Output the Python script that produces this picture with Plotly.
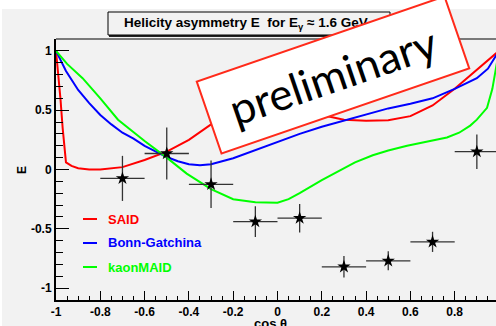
import plotly.graph_objects as go

# Measured helicity asymmetry E (K+ Lambda), E_gamma ~ 1.6 GeV
cos_theta = [-0.7, -0.5, -0.3, -0.1, 0.1, 0.3, 0.5, 0.7, 0.9]
e_meas = [-0.075, 0.135, -0.125, -0.44, -0.41, -0.82, -0.77, -0.61, 0.15]
e_stat = [0.19, 0.22, 0.20, 0.13, 0.12, 0.09, 0.08, 0.085, 0.145]
bin_half = [0.1, 0.1, 0.1, 0.1, 0.1, 0.1, 0.1, 0.1, 0.1]

# Model predictions
said_x = [-1.0, -0.99, -0.98, -0.97, -0.955, -0.93, -0.9, -0.85, -0.8, -0.7, -0.6, -0.5,
          -0.4, -0.3, -0.2, -0.1, 0.0, 0.1, 0.2, 0.3, 0.4, 0.5, 0.6, 0.7, 0.8, 0.9, 0.95, 1.0]
said_y = [1.0, 0.82, 0.6, 0.35, 0.06, 0.03, 0.01, 0.0, 0.0, 0.02, 0.08, 0.15,
          0.25, 0.38, 0.47, 0.52, 0.53, 0.50, 0.46, 0.42, 0.41, 0.415, 0.45, 0.54, 0.68, 0.84, 0.92, 1.0]

bg_x = [-1.0, -0.98, -0.955, -0.9, -0.85, -0.8, -0.75, -0.7, -0.65, -0.6, -0.55, -0.5, -0.45,
        -0.4, -0.35, -0.3, -0.2, -0.1, 0.0, 0.1, 0.2, 0.3, 0.4, 0.5, 0.6, 0.7, 0.8, 0.9, 0.95,
        0.985, 1.0]
bg_y = [1.0, 0.92, 0.83, 0.67, 0.56, 0.46, 0.38, 0.31, 0.26, 0.2, 0.15, 0.105, 0.07,
        0.045, 0.035, 0.045, 0.095, 0.165, 0.23, 0.30, 0.36, 0.41, 0.46, 0.515, 0.555, 0.60,
        0.68, 0.77, 0.85, 0.95, 1.0]

km_x = [-1.0, -0.95, -0.88, -0.8, -0.72, -0.6, -0.5, -0.41, -0.3, -0.2, -0.1, 0.0, 0.05,
        0.1, 0.2, 0.28, 0.35, 0.43, 0.5, 0.585, 0.7, 0.765, 0.82, 0.87, 0.9, 0.946, 0.97,
        0.985, 1.0]
km_y = [1.0, 0.89, 0.77, 0.6, 0.42, 0.24, 0.10, -0.035, -0.165, -0.25, -0.275, -0.28, -0.25,
        -0.20, -0.09, -0.01, 0.06, 0.12, 0.16, 0.20, 0.245, 0.27, 0.31, 0.37, 0.42, 0.52, 0.68,
        0.85, 1.0]

model_names = ["SAID", "Bonn-Gatchina", "kaonMAID"]
model_colors = ["#ff0000", "#0000ff", "#00ff00"]

x_tickvals = [-1.0, -0.8, -0.6, -0.4, -0.2, 0.0, 0.2, 0.4, 0.6, 0.8]
x_ticktext = ["-1", "-0.8", "-0.6", "-0.4", "-0.2", "0", "0.2", "0.4", "0.6", "0.8"]
y_tickvals = [-1.0, -0.5, 0.0, 0.5, 1.0]
y_ticktext = ["-1", "-0.5", "0", "0.5", "1"]

BG = "#f2f2f2"
FONT = "Liberation Sans"

fig = go.Figure()

for xs, ys, name, col in zip([said_x, bg_x, km_x], [said_y, bg_y, km_y], model_names, model_colors):
    fig.add_trace(go.Scatter(x=xs, y=ys, mode="lines", name=name,
                             line=dict(color=col, width=2), showlegend=False))

fig.add_trace(go.Scatter(
    x=cos_theta, y=e_meas, mode="markers", showlegend=False,
    marker=dict(symbol="star", size=10, color="black"),
    error_y=dict(type="data", array=e_stat, color="#333333", thickness=1.3, width=0),
    error_x=dict(type="data", array=bin_half, color="#333333", thickness=1.3, width=0),
))

# pixel -> paper helpers for the 496x326 canvas (plot area 56..496, 39..300)
L, R, T, B = 56, 496, 39, 300
def px(x):
    return (x - L) / (R - L)
def py(y):
    return (B - y) / (B - T)

shapes = []
# white strip along the top and left edges of the canvas
shapes.append(dict(type="rect", xref="paper", yref="paper", x0=px(-10), x1=px(510),
                   y0=py(9), y1=py(-10), fillcolor="white", line=dict(width=0), layer="below"))
shapes.append(dict(type="rect", xref="paper", yref="paper", x0=px(-10), x1=px(2),
                   y0=py(340), y1=py(-10), fillcolor="white", line=dict(width=0), layer="below"))
# frame top line
shapes.append(dict(type="line", xref="paper", yref="paper", x0=0, x1=1, y0=1, y1=1,
                   line=dict(color="black", width=1)))
# title box with drop shadow
shapes.append(dict(type="rect", xref="paper", yref="paper", x0=px(109), x1=px(392),
                   y0=py(37), y1=py(35), fillcolor="#222222", line=dict(width=0)))
shapes.append(dict(type="rect", xref="paper", yref="paper", x0=px(108), x1=px(390),
                   y0=py(35), y1=py(12), fillcolor=BG, line=dict(color="black", width=1)))

annotations = []
annotations.append(dict(xref="paper", yref="paper", x=px(122), y=py(24),
                        text="Helicity asymmetry E  for E<sub>γ</sub> ≈ 1.6 GeV",
                        showarrow=False, xanchor="left", yanchor="middle",
                        font=dict(family=FONT, size=13.5, color="black", weight="bold")))

# legend
leg_y = [219, 243, 267]
for name, col, yy in zip(model_names, model_colors, leg_y):
    shapes.append(dict(type="line", xref="paper", yref="paper", x0=px(83), x1=px(97),
                       y0=py(yy), y1=py(yy), line=dict(color=col, width=2)))
    annotations.append(dict(xref="paper", yref="paper", x=px(106), y=py(yy), text=name,
                            showarrow=False, xanchor="left", yanchor="middle",
                            font=dict(family=FONT, size=13, color=col, weight="bold")))

# axis titles
annotations.append(dict(xref="paper", yref="paper", x=px(22), y=py(170), text="E",
                        showarrow=False, textangle=-90, xanchor="center", yanchor="middle",
                        font=dict(family=FONT, size=12, color="black", weight="bold")))
annotations.append(dict(xref="paper", yref="paper", x=px(277), y=py(314),
                        text="cos θ<sub>cm</sub>", showarrow=False,
                        xanchor="center", yanchor="top",
                        font=dict(family=FONT, size=13, color="black", weight="bold")))

# stamp
annotations.append(dict(xref="paper", yref="paper", x=px(333), y=py(75), text="preliminary",
                        showarrow=False, xanchor="center", yanchor="middle", textangle=-19,
                        width=258, height=72, bgcolor="white", bordercolor="#ff2a1a",
                        borderwidth=2, borderpad=1,
                        font=dict(family="Lato", size=44, color="black")))

fig.update_layout(
    width=496, height=326,
    margin=dict(l=L, r=496 - R, t=T, b=326 - B),
    paper_bgcolor=BG, plot_bgcolor=BG,
    shapes=shapes, annotations=annotations,
    xaxis=dict(range=[-1.0, -1.0 + (R - L) / 221.5], showgrid=False, zeroline=False,
               showline=True, linecolor="black", linewidth=2,
               tickmode="array", tickvals=x_tickvals, ticktext=x_ticktext,
               ticks="inside", ticklen=9, tickwidth=1, tickcolor="black",
               minor=dict(ticks="inside", ticklen=4, dtick=0.05, tick0=-1, tickcolor="black",
                          tickwidth=1, showgrid=False),
               tickfont=dict(family=FONT, size=12, color="black", weight="bold")),
    yaxis=dict(range=[-1.1, 1.1], showgrid=False, zeroline=False,
               showline=True, linecolor="black", linewidth=2,
               tickmode="array", tickvals=y_tickvals, ticktext=y_ticktext,
               ticks="inside", ticklen=13, tickwidth=1, tickcolor="black",
               minor=dict(ticks="inside", ticklen=7, dtick=0.1, tick0=-1, tickcolor="black",
                          tickwidth=1, showgrid=False),
               tickfont=dict(family=FONT, size=12, color="black", weight="bold")),
)

fig.write_html("out.html")
